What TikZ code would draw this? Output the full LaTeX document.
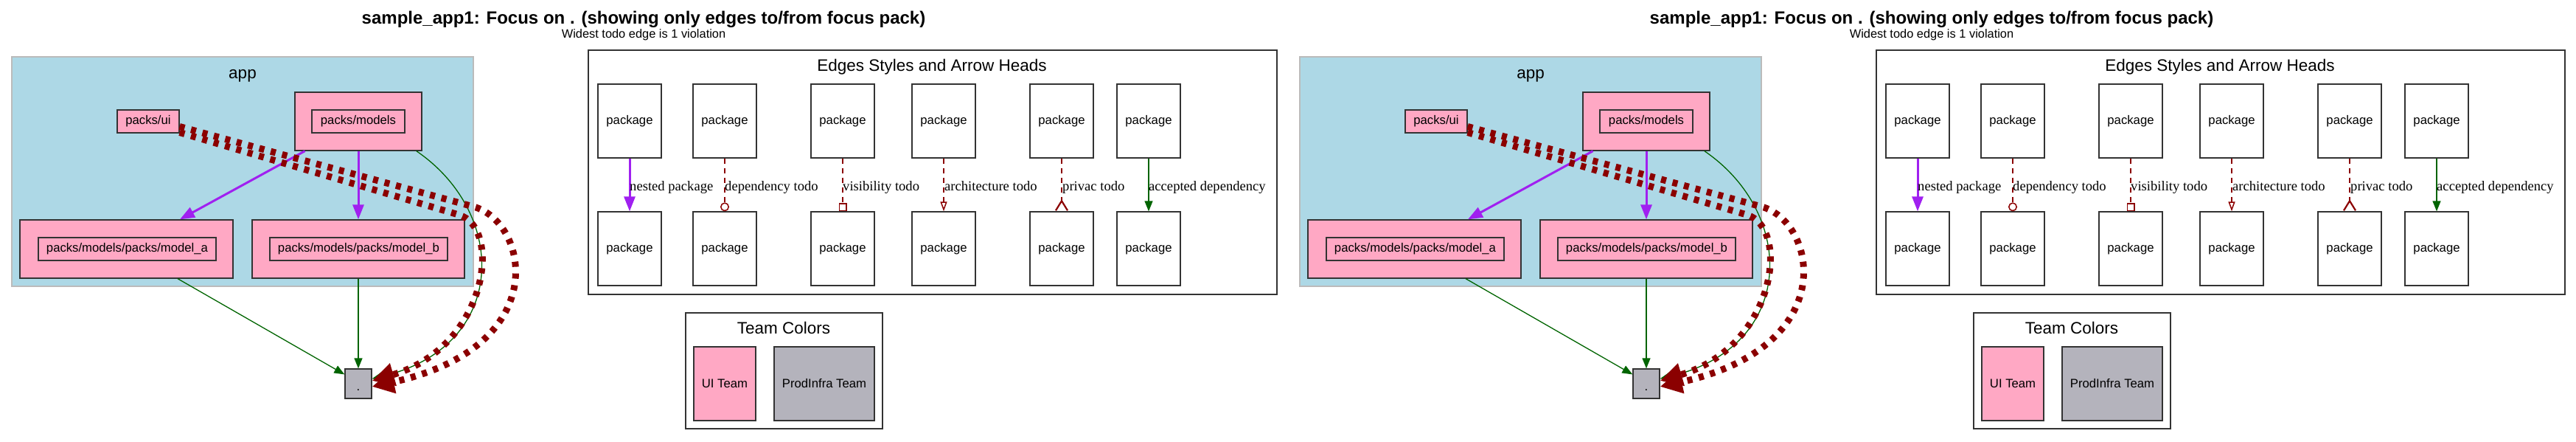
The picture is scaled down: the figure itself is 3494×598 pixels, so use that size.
\documentclass[tikz,border=0pt]{standalone}
\usepackage{fontspec}
\setmainfont{Liberation Sans}
\newfontfamily\edgefont{Liberation Serif}
\usetikzlibrary{arrows.meta}

\definecolor{teampink}{HTML}{FFA8C4}
\definecolor{teamgray}{HTML}{B4B3BC}
\definecolor{clusterblue}{HTML}{ADD8E6}
\definecolor{clusterline}{HTML}{BBBBBB}
\definecolor{nestpurple}{HTML}{A020F0}
\definecolor{tododarkred}{HTML}{8B0000}
\definecolor{okgreen}{HTML}{006400}
\definecolor{framegray}{HTML}{333333}

\begin{document}
\begin{tikzpicture}[
    x=1pt, y=-1pt, font=\fontsize{16.7}{20}\selectfont,
    pack/.style={draw=framegray, line width=1.3pt, fill=teampink, inner sep=0pt},
    legendpack/.style={draw=framegray, line width=1.3pt, fill=white, inner sep=0pt,
      minimum width=86pt, minimum height=100pt},
    frame/.style={draw=framegray, line width=1.5pt, inner sep=0pt},
    clusterlabel/.style={font=\fontsize{22.5}{26}\selectfont, anchor=base, inner sep=0pt},
    nested/.style={draw=nestpurple, line width=3pt, -{Triangle[length=20pt,width=15pt]}},
    accepted/.style={draw=okgreen, line width=1.3pt, -{Triangle[length=14pt,width=11pt]}},
    todo/.style={draw=tododarkred, line width=1.5pt, dash pattern=on 7pt off 6pt},
    todolane/.style={draw=tododarkred, line width=9pt, dash pattern=on 7pt off 9pt,
      -{Triangle[length=30pt,width=30pt]}},
    edgelabel/.style={font=\edgefont\fontsize{18.6}{22}\selectfont, anchor=base west,
      inner sep=0pt}]

    \useasboundingbox (0,0) rectangle (3494,598);

  \foreach \s/\dx in {l/0, r/1747} {
  \begin{scope}[xshift=\dx pt]

    % titles

    \node[anchor=base, font=\fontsize{24}{28}\selectfont\bfseries] (title\s) at (873,32)
      {sample\_app1: Focus on . (showing only edges to/from focus pack)};
    \node[anchor=base, font=\fontsize{16.4}{20}\selectfont] (subtitle\s) at (873,51)
      {Widest todo edge is 1 violation};

    % packages

    \node[draw=clusterline, fill=clusterblue, line width=2pt,
      minimum width=626pt, minimum height=311pt] (app\s) at (329,232.5) {};
    \node[clusterlabel] (applabel\s) at (329,106) {app};

    \node[pack, minimum width=84pt, minimum height=31pt] (ui\s) at (201,164.5) {packs/ui};

    \node[pack, minimum width=172pt, minimum height=79pt] (models\s) at (486,164.5) {};
    \node[pack, minimum width=126pt, minimum height=31pt] (modelsin\s) at (486,164.5) {packs/models};

    \node[pack, minimum width=289pt, minimum height=79pt] (modela\s) at (171.5,337.5) {};
    \node[pack, minimum width=241pt, minimum height=31pt] (modelain\s) at (172.5,337.5)
      {packs/models/packs/model\_a};

    \node[pack, minimum width=288pt, minimum height=79pt] (modelb\s) at (486,337.5) {};
    \node[pack, minimum width=241pt, minimum height=31pt] (modelbin\s) at (486.5,337.5)
      {packs/models/packs/model\_b};

    \node[pack, fill=teamgray, minimum width=36pt, minimum height=40pt,
      text height=18pt, text depth=0pt] (dot\s) at (486,520) {.};

    % edges

    \draw[nested] (models\s.209) -- (modela\s.29);
    \draw[nested] (models\s.south) -- (modelb\s.north);
    \draw[accepted] (modela\s.-30) -- (dot\s.146);
    \draw[accepted] (modelb\s.south) -- (dot\s.north);
    \draw[accepted] (models\s.-27) .. controls (690,290) and (690,470) .. (dot\s.20);

    \draw[todolane] ([yshift=-7pt]ui\s.east) -- (642,280)
      .. controls (717,300) and (752,470) .. (dot\s.-12);
    \draw[todolane] ([yshift=-15pt]ui\s.east) -- (622,291)
      .. controls (682,308) and (662,470) .. (dot\s.12);

    % legend of edges

    \node[frame, minimum width=934pt, minimum height=331pt] (legend\s) at (1265,233.5) {};
    \node[clusterlabel] (legendlabel\s) at (1264,96) {Edges Styles and Arrow Heads};

    \node[legendpack] (top1\s) at (854,164) {package};
    \node[legendpack] (top2\s) at (983,164) {package};
    \node[legendpack] (top3\s) at (1143,164) {package};
    \node[legendpack] (top4\s) at (1280,164) {package};
    \node[legendpack] (top5\s) at (1440,164) {package};
    \node[legendpack] (top6\s) at (1558,164) {package};

    \node[legendpack] (bot1\s) at (854,337) {package};
    \node[legendpack] (bot2\s) at (983,337) {package};
    \node[legendpack] (bot3\s) at (1143,337) {package};
    \node[legendpack] (bot4\s) at (1280,337) {package};
    \node[legendpack] (bot5\s) at (1440,337) {package};
    \node[legendpack] (bot6\s) at (1558,337) {package};

    \draw[nested] (top1\s) -- (bot1\s);
    \draw[todo, -{Circle[open, length=12pt, width=12pt]}] (top2\s) -- (bot2\s);
    \draw[todo, -{Square[open, length=11pt, width=11pt]}] (top3\s) -- (bot3\s);
    \draw[todo, -{Triangle[open, length=13pt, width=9pt]}] (top4\s) -- (bot4\s);
    \draw[todo, -{Straight Barb[reversed, length=13pt, width=16pt, line width=2.2pt]}]
      (top5\s) -- (bot5\s);
    \draw[accepted] (top6\s) -- (bot6\s);

    \node[edgelabel] (lab1\s) at (854,258) {nested package};
    \node[edgelabel] (lab2\s) at (983,258) {dependency todo};
    \node[edgelabel] (lab3\s) at (1143,258) {visibility todo};
    \node[edgelabel] (lab4\s) at (1281,258) {architecture todo};
    \node[edgelabel] (lab5\s) at (1441,258) {privac todo};
    \node[edgelabel] (lab6\s) at (1558,258) {accepted dependency};

    % legend of teams

    \node[frame, minimum width=267pt, minimum height=157pt] (teams\s) at (1063.5,502.5) {};
    \node[clusterlabel] (teamslabel\s) at (1063,452) {Team Colors};
    \node[pack, minimum width=84pt, minimum height=100pt] (uiteam\s) at (983,520) {UI Team};
    \node[pack, fill=teamgray, minimum width=136pt, minimum height=100pt] (infrateam\s)
      at (1118,520) {ProdInfra Team};

  \end{scope}
  }
\end{tikzpicture}
\end{document}
